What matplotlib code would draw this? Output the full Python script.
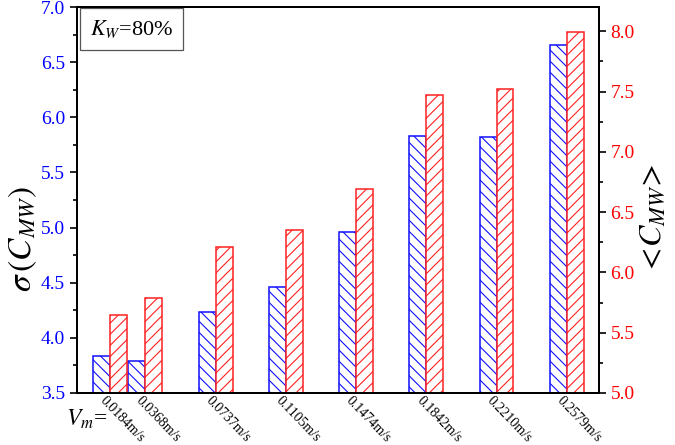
import matplotlib.pyplot as plt
import numpy as np
from matplotlib.ticker import MultipleLocator
from matplotlib.transforms import ScaledTranslation

# flow velocity V_m (m/s) and the two measured quantities
vm = [0.0184, 0.0368, 0.0737, 0.1105, 0.1474, 0.1842, 0.2210, 0.2579]
sigma_cmw = [3.835, 3.787, 4.234, 4.464, 4.957, 5.83, 5.82, 6.66]
mean_cmw = [5.65, 5.79, 6.21, 6.35, 6.69, 7.47, 7.52, 7.99]
vm_labels = ["%.4fm/s" % v for v in vm]

plt.rcParams['font.family'] = 'Liberation Serif'
plt.rcParams['mathtext.fontset'] = 'stix'
plt.rcParams['hatch.linewidth'] = 0.8

fig = plt.figure(figsize=(6.75, 4.45), dpi=100)
ax = fig.add_axes([0.114, 0.117, 0.773, 0.867])
ax2 = ax.twinx()

x = np.array(vm)
w = 0.0089

ax.bar(x - w / 2, sigma_cmw, width=w, facecolor='white', edgecolor='#1010ff',
       hatch='\\\\\\', linewidth=1.1)
ax2.bar(x + w / 2, mean_cmw, width=w, facecolor='white', edgecolor='#ff2020',
        hatch='///', linewidth=1.1)

ax.set_xlim(0.001, 0.2746)
ax.set_ylim(3.5, 7.0)
ax2.set_ylim(5.0, 8.2)

ax.yaxis.set_major_locator(MultipleLocator(0.5))
ax.yaxis.set_minor_locator(MultipleLocator(0.25))
ax2.yaxis.set_major_locator(MultipleLocator(0.5))
ax2.yaxis.set_minor_locator(MultipleLocator(0.25))

ax.set_xticks(x)
ax.set_xticklabels(vm_labels, rotation=-46, ha='left', va='top',
                   rotation_mode='anchor', fontsize=10)
ax.tick_params(axis='x', length=0, pad=1)
shift = ScaledTranslation(-3 / 100, 0, fig.dpi_scale_trans)
for lab in ax.get_xticklabels():
    lab.set_transform(lab.get_transform() + shift)

ax.tick_params(axis='y', which='major', length=5, width=1.2, labelsize=14,
               labelcolor='#0000ff', direction='out')
ax.tick_params(axis='y', which='minor', length=3, width=1.2)
ax2.tick_params(axis='y', which='major', length=5, width=1.2, labelsize=14,
                labelcolor='#ff0000', direction='out')
ax2.tick_params(axis='y', which='minor', length=3, width=1.2)

ax.yaxis.set_major_formatter(plt.FormatStrFormatter('%.1f'))
ax2.yaxis.set_major_formatter(plt.FormatStrFormatter('%.1f'))

for a in (ax, ax2):
    for s in a.spines.values():
        s.set_linewidth(1.4)

ax.set_ylabel(r'$\sigma\,(C_{MW})$', fontsize=24)
ax.yaxis.set_label_coords(-0.072, 0.40)
ax2.set_ylabel(r'$<\!C_{MW}\!>$', fontsize=23, rotation=90)
ax2.yaxis.set_label_coords(1.077, 0.45)

ax.text(0.025, 0.972, r'$K_W$=80%', transform=ax.transAxes, fontsize=16,
        ha='left', va='top',
        bbox=dict(boxstyle='square,pad=0.45', facecolor='white',
                  edgecolor='#555555', linewidth=0.9))

fig.text(0.098, 0.058, r'$V_m$=', fontsize=17, ha='left', va='center')

fig.savefig('out.png', dpi=100)
